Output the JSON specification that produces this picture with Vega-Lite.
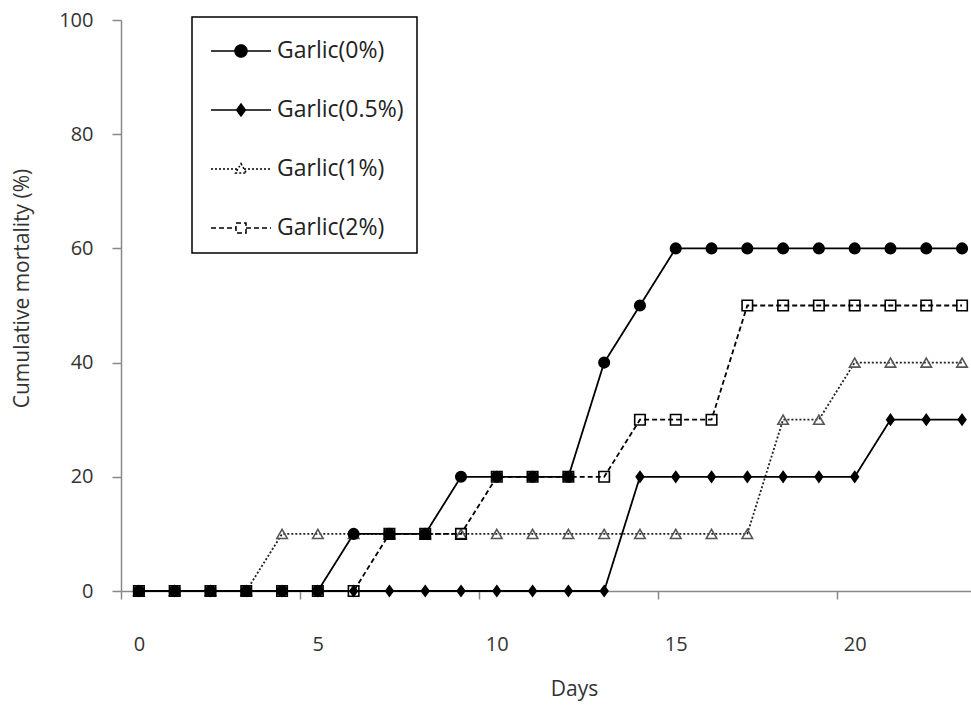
{
  "$schema": "https://vega.github.io/schema/vega-lite/v6.json",
  "width": 850,
  "height": 571,
  "autosize": "none",
  "padding": {"left": 121, "top": 20, "right": 0, "bottom": 114},
  "background": "white",
  "config": {
    "view": {"stroke": null},
    "font": "Open Sans",
    "axis": {"labelFont": "Open Sans", "titleFont": "Open Sans", "labelColor": "#333", "titleColor": "#333", "titleFontWeight": "normal", "labelFontSize": 20, "titleFontSize": 21, "domainColor": "#888", "tickColor": "#888", "domainWidth": 1.5, "tickWidth": 1.5, "grid": false}
  },
  "data": {"values": [
    {"day":0,"mortality":0,"group":"Garlic(1%)"},{"day":1,"mortality":0,"group":"Garlic(1%)"},{"day":2,"mortality":0,"group":"Garlic(1%)"},{"day":3,"mortality":0,"group":"Garlic(1%)"},{"day":4,"mortality":10,"group":"Garlic(1%)"},{"day":5,"mortality":10,"group":"Garlic(1%)"},{"day":6,"mortality":10,"group":"Garlic(1%)"},{"day":7,"mortality":10,"group":"Garlic(1%)"},{"day":8,"mortality":10,"group":"Garlic(1%)"},{"day":9,"mortality":10,"group":"Garlic(1%)"},{"day":10,"mortality":10,"group":"Garlic(1%)"},{"day":11,"mortality":10,"group":"Garlic(1%)"},{"day":12,"mortality":10,"group":"Garlic(1%)"},{"day":13,"mortality":10,"group":"Garlic(1%)"},{"day":14,"mortality":10,"group":"Garlic(1%)"},{"day":15,"mortality":10,"group":"Garlic(1%)"},{"day":16,"mortality":10,"group":"Garlic(1%)"},{"day":17,"mortality":10,"group":"Garlic(1%)"},{"day":18,"mortality":30,"group":"Garlic(1%)"},{"day":19,"mortality":30,"group":"Garlic(1%)"},{"day":20,"mortality":40,"group":"Garlic(1%)"},{"day":21,"mortality":40,"group":"Garlic(1%)"},{"day":22,"mortality":40,"group":"Garlic(1%)"},{"day":23,"mortality":40,"group":"Garlic(1%)"},
    {"day":0,"mortality":0,"group":"Garlic(0%)"},{"day":1,"mortality":0,"group":"Garlic(0%)"},{"day":2,"mortality":0,"group":"Garlic(0%)"},{"day":3,"mortality":0,"group":"Garlic(0%)"},{"day":4,"mortality":0,"group":"Garlic(0%)"},{"day":5,"mortality":0,"group":"Garlic(0%)"},{"day":6,"mortality":10,"group":"Garlic(0%)"},{"day":7,"mortality":10,"group":"Garlic(0%)"},{"day":8,"mortality":10,"group":"Garlic(0%)"},{"day":9,"mortality":20,"group":"Garlic(0%)"},{"day":10,"mortality":20,"group":"Garlic(0%)"},{"day":11,"mortality":20,"group":"Garlic(0%)"},{"day":12,"mortality":20,"group":"Garlic(0%)"},{"day":13,"mortality":40,"group":"Garlic(0%)"},{"day":14,"mortality":50,"group":"Garlic(0%)"},{"day":15,"mortality":60,"group":"Garlic(0%)"},{"day":16,"mortality":60,"group":"Garlic(0%)"},{"day":17,"mortality":60,"group":"Garlic(0%)"},{"day":18,"mortality":60,"group":"Garlic(0%)"},{"day":19,"mortality":60,"group":"Garlic(0%)"},{"day":20,"mortality":60,"group":"Garlic(0%)"},{"day":21,"mortality":60,"group":"Garlic(0%)"},{"day":22,"mortality":60,"group":"Garlic(0%)"},{"day":23,"mortality":60,"group":"Garlic(0%)"},
    {"day":0,"mortality":0,"group":"Garlic(0.5%)"},{"day":1,"mortality":0,"group":"Garlic(0.5%)"},{"day":2,"mortality":0,"group":"Garlic(0.5%)"},{"day":3,"mortality":0,"group":"Garlic(0.5%)"},{"day":4,"mortality":0,"group":"Garlic(0.5%)"},{"day":5,"mortality":0,"group":"Garlic(0.5%)"},{"day":6,"mortality":0,"group":"Garlic(0.5%)"},{"day":7,"mortality":0,"group":"Garlic(0.5%)"},{"day":8,"mortality":0,"group":"Garlic(0.5%)"},{"day":9,"mortality":0,"group":"Garlic(0.5%)"},{"day":10,"mortality":0,"group":"Garlic(0.5%)"},{"day":11,"mortality":0,"group":"Garlic(0.5%)"},{"day":12,"mortality":0,"group":"Garlic(0.5%)"},{"day":13,"mortality":0,"group":"Garlic(0.5%)"},{"day":14,"mortality":20,"group":"Garlic(0.5%)"},{"day":15,"mortality":20,"group":"Garlic(0.5%)"},{"day":16,"mortality":20,"group":"Garlic(0.5%)"},{"day":17,"mortality":20,"group":"Garlic(0.5%)"},{"day":18,"mortality":20,"group":"Garlic(0.5%)"},{"day":19,"mortality":20,"group":"Garlic(0.5%)"},{"day":20,"mortality":20,"group":"Garlic(0.5%)"},{"day":21,"mortality":30,"group":"Garlic(0.5%)"},{"day":22,"mortality":30,"group":"Garlic(0.5%)"},{"day":23,"mortality":30,"group":"Garlic(0.5%)"},
    {"day":0,"mortality":0,"group":"Garlic(2%)"},{"day":1,"mortality":0,"group":"Garlic(2%)"},{"day":2,"mortality":0,"group":"Garlic(2%)"},{"day":3,"mortality":0,"group":"Garlic(2%)"},{"day":4,"mortality":0,"group":"Garlic(2%)"},{"day":5,"mortality":0,"group":"Garlic(2%)"},{"day":6,"mortality":0,"group":"Garlic(2%)"},{"day":7,"mortality":10,"group":"Garlic(2%)"},{"day":8,"mortality":10,"group":"Garlic(2%)"},{"day":9,"mortality":10,"group":"Garlic(2%)"},{"day":10,"mortality":20,"group":"Garlic(2%)"},{"day":11,"mortality":20,"group":"Garlic(2%)"},{"day":12,"mortality":20,"group":"Garlic(2%)"},{"day":13,"mortality":20,"group":"Garlic(2%)"},{"day":14,"mortality":30,"group":"Garlic(2%)"},{"day":15,"mortality":30,"group":"Garlic(2%)"},{"day":16,"mortality":30,"group":"Garlic(2%)"},{"day":17,"mortality":50,"group":"Garlic(2%)"},{"day":18,"mortality":50,"group":"Garlic(2%)"},{"day":19,"mortality":50,"group":"Garlic(2%)"},{"day":20,"mortality":50,"group":"Garlic(2%)"},{"day":21,"mortality":50,"group":"Garlic(2%)"},{"day":22,"mortality":50,"group":"Garlic(2%)"},{"day":23,"mortality":50,"group":"Garlic(2%)"}
  ]},
  "encoding": {
    "x": {"field": "day", "type": "quantitative", "scale": {"domain": [-0.5, 23.25], "nice": false, "zero": false},
      "axis": {"title": "Days", "values": [0, 5, 10, 15, 20], "tickOffset": -17.9, "labelOffset": 17.9, "tickSize": 8, "labelPadding": 35, "labelFlush": false, "labelOverlap": false, "titleX": 453, "titleY": 98, "titleBaseline": "middle", "titleAnchor": null}},
    "y": {"field": "mortality", "type": "quantitative", "scale": {"domain": [0, 100], "nice": false},
      "axis": {"title": "Cumulative mortality (%)", "values": [0, 20, 40, 60, 80, 100], "tickSize": 9, "labelPadding": 19, "labelFlush": false, "labelOverlap": false, "titleX": -99, "titleY": 268, "titleAngle": -90, "titleBaseline": "middle", "titleAlign": "center"}}
  },
  "layer": [
    {
      "mark": {"type": "line", "strokeWidth": 1.8},
      "encoding": {
        "detail": {"field": "group"},
        "stroke": {"field": "group", "type": "nominal", "scale": {"domain": ["Garlic(0.5%)", "Garlic(0%)", "Garlic(2%)", "Garlic(1%)"], "range": ["#000000", "#000000", "#000000", "#222222"]}, "legend": null},
        "strokeDash": {"field": "group", "type": "nominal", "scale": {"domain": ["Garlic(0.5%)", "Garlic(0%)", "Garlic(2%)", "Garlic(1%)"], "range": [[1, 0], [1, 0], [5, 3], [2, 2]]}, "legend": null}
      }
    },
    {
      "mark": {"type": "point", "size": 110, "strokeWidth": 1.6, "opacity": 1},
      "encoding": {
        "shape": {"field": "group", "type": "nominal", "scale": {"domain": ["Garlic(0%)", "Garlic(0.5%)", "Garlic(1%)", "Garlic(2%)"], "range": ["circle", "M0,-1L0.72,0L0,1L-0.72,0Z", "triangle-up", "square"]}, "legend": null},
        "fill": {"field": "group", "type": "nominal", "scale": {"domain": ["Garlic(2%)", "Garlic(1%)", "Garlic(0.5%)", "Garlic(0%)"], "range": ["transparent", "transparent", "#000000", "#000000"]},
          "legend": {
            "orient": "none", "legendX": 71, "legendY": -3, "title": null,
            "values": ["Garlic(0%)", "Garlic(0.5%)", "Garlic(1%)", "Garlic(2%)"],
            "labelExpr": "datum.label + '\u00a0\u00a0'",
            "padding": 13, "strokeColor": "#000", "fillColor": "#fff",
            "labelFont": "Open Sans", "labelFontSize": 23, "labelColor": "#222", "labelOffset": 30, "labelLimit": 300,
            "symbolSize": 1600, "rowPadding": 26, "symbolStrokeWidth": 1.5,
            "encoding": {
              "legend": {"strokeWidth": {"value": 1.5}},
              "symbols": {
                "shape": {"value": {"expr": "datum.value === 'Garlic(0%)' ? 'M-0.75,0H2.25M1.05,0A0.3,0.3 0 1,1 0.45,0A0.3,0.3 0 1,1 1.05,0Z' : datum.value === 'Garlic(0.5%)' ? 'M-0.75,0H2.25M0.75,-0.3L0.97,0L0.75,0.3L0.53,0Z' : datum.value === 'Garlic(1%)' ? 'M-0.75,0H0.6M0.9,0H2.25M0.75,-0.27L1.02,0.2L0.48,0.2Z' : 'M-0.75,0H0.5M1,0H2.25M0.5,-0.25H1V0.25H0.5Z'"}},
                "fill": {"value": {"expr": "datum.value === 'Garlic(0%)' || datum.value === 'Garlic(0.5%)' ? '#000' : '#fff'"}},
                "stroke": {"value": "#000"},
                "strokeDash": {"value": {"expr": "datum.value === 'Garlic(1%)' ? [2, 2] : datum.value === 'Garlic(2%)' ? [5, 3] : [1, 0]"}},
                "opacity": {"value": 1}
              }
            }
          }},
        "stroke": {"field": "group", "type": "nominal", "scale": {"domain": ["Garlic(1%)", "Garlic(0%)", "Garlic(0.5%)", "Garlic(2%)"], "range": ["#555555", "#000000", "#000000", "#000000"]}, "legend": null}
      }
    }
  ],
  "resolve": {"scale": {"stroke": "independent"}}
}
